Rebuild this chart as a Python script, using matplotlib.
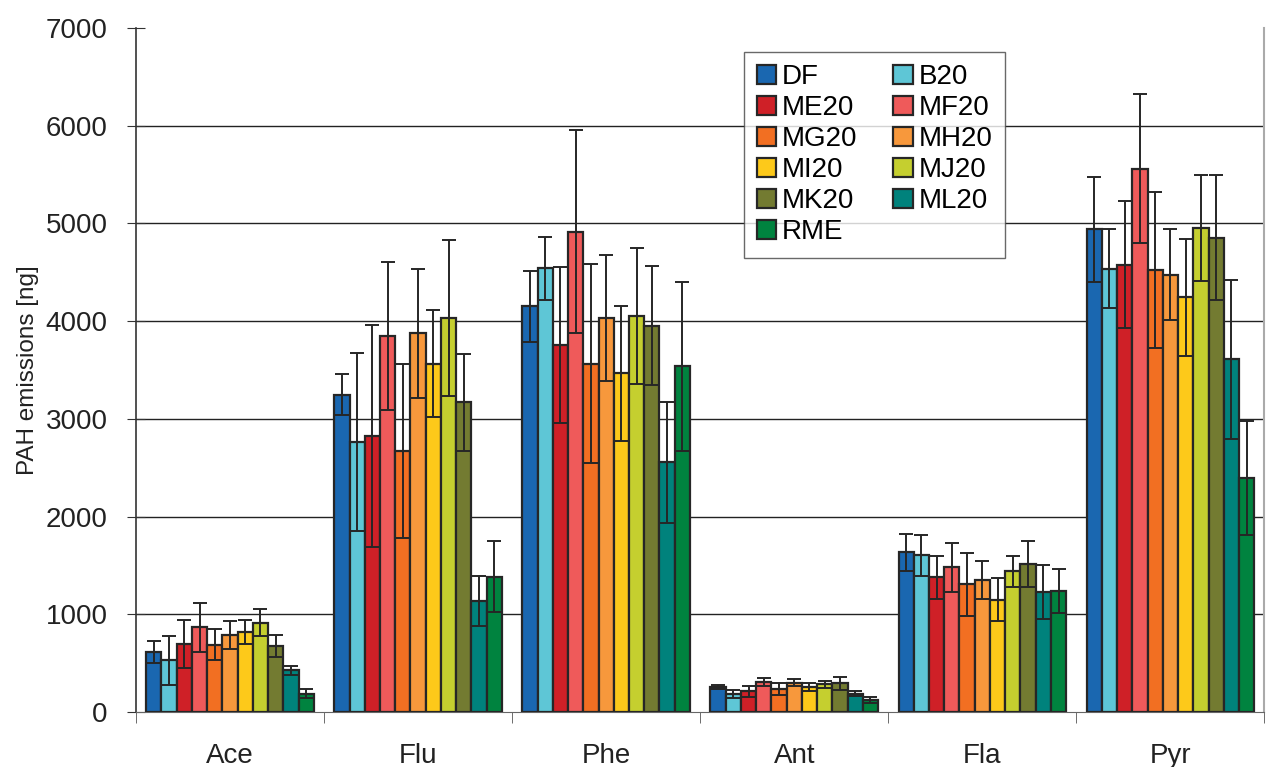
import numpy as np
import matplotlib.pyplot as plt

plt.rcParams['font.family'] = ['Liberation Sans', 'DejaVu Sans']

compounds = ['Ace', 'Flu', 'Phe', 'Ant', 'Fla', 'Pyr']
fuels = ['DF', 'B20', 'ME20', 'MF20', 'MG20', 'MH20', 'MI20', 'MJ20', 'MK20', 'ML20', 'RME']
colors = ['#1a67b0', '#5ec6d6', '#cf2027', '#ef5a5a', '#f26f22', '#f7983c',
          '#fdc91a', '#c5cf2f', '#737b31', '#00827c', '#00833f']

# mean emissions per fuel, one entry per compound (Ace, Flu, Phe, Ant, Fla, Pyr)
means = {
    'DF':   [614, 3245, 4153, 259, 1636, 4942],
    'B20':  [529, 2762, 4540, 184, 1605, 4538],
    'ME20': [696, 2827, 3754, 212, 1378, 4579],
    'MF20': [867, 3850, 4915, 310, 1480, 5558],
    'MG20': [690, 2670, 3565, 235, 1306, 4525],
    'MH20': [788, 3874, 4032, 300, 1350, 4475],
    'MI20': [819, 3565, 3468, 256, 1150, 4242],
    'MJ20': [915, 4031, 4052, 283, 1439, 4950],
    'MK20': [672, 3170, 3952, 293, 1517, 4854],
    'ML20': [427, 1139, 2556, 188, 1228, 3608],
    'RME':  [188, 1384, 3536, 123, 1241, 2392],
}
errors = {
    'DF':   [108, 210, 365, 20, 190, 537],
    'B20':  [250, 910, 325, 37, 210, 405],
    'ME20': [245, 1135, 795, 55, 220, 652],
    'MF20': [249, 760, 1040, 40, 250, 763],
    'MG20': [155, 890, 1018, 63, 320, 800],
    'MH20': [147, 660, 643, 37, 198, 463],
    'MI20': [121, 545, 690, 45, 220, 600],
    'MJ20': [135, 800, 698, 38, 162, 542],
    'MK20': [114, 495, 608, 68, 238, 637],
    'ML20': [45, 257, 617, 27, 272, 812],
    'RME':  [43, 362, 863, 29, 223, 583],
}

fig = plt.figure(figsize=(12.67, 7.67), dpi=100)
ax = fig.add_axes([0.1073, 0.0717, 0.8907, 0.8918])

x = np.arange(len(compounds))
width = 0.081
handles = []
for i, fuel in enumerate(fuels):
    pos = x + (i - 5) * width
    b = ax.bar(pos, means[fuel], width, color=colors[i], edgecolor='#262626',
               linewidth=1.6, label=fuel, zorder=3)
    ax.errorbar(pos, means[fuel], yerr=errors[fuel], fmt='none', ecolor='#262626',
                elinewidth=1.4, capsize=5, capthick=1.4, zorder=4)
    handles.append(b)

ax.set_xlim(-0.5, len(compounds) - 0.5)
ax.set_ylim(0, 7000)
ax.set_yticks(np.arange(0, 7001, 1000))
ax.tick_params(axis='y', labelsize=20, direction='inout', length=13, color='#333333',
               labelcolor='#222222', pad=14)
ax.yaxis.grid(True, color='#222222', linewidth=1.0, zorder=0)
ax.yaxis.get_gridlines()[-1].set_visible(False)
ax.yaxis.get_gridlines()[0].set_visible(False)

# category labels centred, separator ticks between groups
ax.set_xticks(x)
ax.set_xticklabels(compounds, fontsize=20, color='#222222')
ax.tick_params(axis='x', length=0, pad=22)
ax.set_xticks(np.arange(-0.5, len(compounds), 1.0), minor=True)
ax.tick_params(axis='x', which='minor', length=8, direction='out', color='#555555')

ax.set_ylabel('PAH emissions [ng]', fontsize=17.5, color='#222222', labelpad=5)

ax.spines['top'].set_visible(False)
ax.spines['left'].set_color('#333333')
ax.spines['left'].set_linewidth(1.2)
ax.spines['bottom'].set_color('#666666')
ax.spines['right'].set_color('#aaaaaa')
ax.spines['right'].set_linewidth(1.5)

order = [0, 2, 4, 6, 8, 10, 1, 3, 5, 7, 9]
leg = ax.legend([handles[k] for k in order], [fuels[k] for k in order], ncol=2,
                loc='upper left', bbox_to_anchor=(0.539, 0.965), borderaxespad=0,
                fontsize=20, frameon=True, fancybox=False, edgecolor='#444444',
                handlelength=0.7, handleheight=0.7, handletextpad=0.2,
                columnspacing=1.3, labelspacing=0.18, borderpad=0.45)
leg.get_frame().set_linewidth(1.0)
leg.set_zorder(5)

fig.savefig('out.png', dpi=100)
